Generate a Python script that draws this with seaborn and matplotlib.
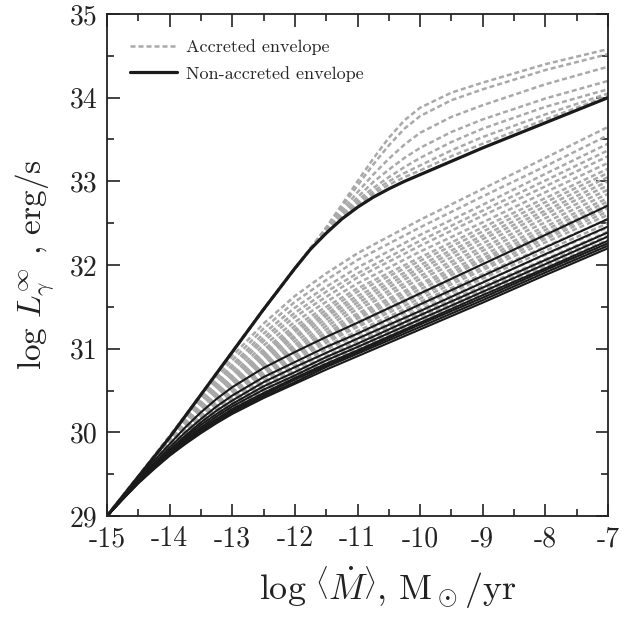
import matplotlib
matplotlib.use("Agg")
import matplotlib.pyplot as plt
from matplotlib.lines import Line2D
from matplotlib.ticker import MultipleLocator
import seaborn as sns

# ---------------- data ----------------
x_ticks = [-15, -14, -13, -12, -11, -10, -9, -8, -7]
x_tick_labels = ["-15", "-14", "-13", "-12", "-11", "-10", "-9", "-8", "-7"]
y_ticks = [29, 30, 31, 32, 33, 34, 35]
y_tick_labels = ["29", "30", "31", "32", "33", "34", "35"]

# Upper branch (non-accreted top curve and its accreted companions)
x_upper = [-15, -14.5, -14, -13.5, -13, -12.5, -12, -11.75, -11.5, -11.25, -11,
           -10.75, -10.5, -10.25, -10, -9.5, -9, -8, -7]
y_black_top = [29.0, 29.47, 29.94, 30.45, 30.96, 31.47, 31.96, 32.19, 32.38, 32.55, 32.69,
               32.81, 32.91, 33.00, 33.08, 33.24, 33.40, 33.70, 34.00]
y_gray_upper = [
    [29.0, 29.47, 29.94, 30.45, 30.96, 31.47, 31.96, 32.20, 32.45, 32.72, 33.00, 33.27, 33.52, 33.73, 33.88, 34.06, 34.18, 34.40, 34.58],
    [29.0, 29.47, 29.94, 30.45, 30.96, 31.47, 31.96, 32.20, 32.44, 32.69, 32.95, 33.20, 33.43, 33.63, 33.78, 33.97, 34.10, 34.33, 34.52],
    [29.0, 29.47, 29.94, 30.45, 30.96, 31.47, 31.96, 32.20, 32.43, 32.65, 32.87, 33.08, 33.27, 33.44, 33.58, 33.77, 33.91, 34.16, 34.37],
    [29.0, 29.47, 29.94, 30.45, 30.96, 31.47, 31.96, 32.19, 32.42, 32.62, 32.81, 32.99, 33.14, 33.28, 33.40, 33.59, 33.74, 33.99, 34.20],
    [29.0, 29.47, 29.94, 30.45, 30.96, 31.47, 31.96, 32.19, 32.41, 32.60, 32.77, 32.92, 33.05, 33.17, 33.28, 33.47, 33.63, 33.89, 34.10],
    [29.0, 29.47, 29.94, 30.45, 30.96, 31.47, 31.96, 32.19, 32.40, 32.58, 32.74, 32.88, 33.00, 33.10, 33.19, 33.37, 33.53, 33.80, 34.05],
    [29.0, 29.47, 29.94, 30.45, 30.96, 31.47, 31.96, 32.19, 32.39, 32.57, 32.72, 32.85, 32.96, 33.05, 33.13, 33.30, 33.45, 33.74, 34.02],
]

# Lower branch
x_lower = [-15, -14.75, -14.5, -14.25, -14, -13.75, -13.5, -13.25, -13, -12.5, -12,
           -11.5, -11, -10, -9, -8, -7]
y_black_lower = [
    [29.0, 29.23, 29.45, 29.66, 29.86, 30.06, 30.24, 30.40, 30.54, 30.77, 30.96, 31.14, 31.31, 31.66, 32.01, 32.36, 32.71],
    [29.0, 29.22, 29.43, 29.63, 29.82, 30.00, 30.16, 30.31, 30.44, 30.66, 30.84, 31.02, 31.18, 31.53, 31.87, 32.21, 32.55],
    [29.0, 29.22, 29.42, 29.61, 29.79, 29.96, 30.12, 30.26, 30.38, 30.60, 30.78, 30.95, 31.12, 31.45, 31.79, 32.13, 32.46],
    [29.0, 29.21, 29.41, 29.60, 29.77, 29.94, 30.09, 30.22, 30.34, 30.55, 30.72, 30.90, 31.06, 31.40, 31.73, 32.06, 32.39],
    [29.0, 29.21, 29.41, 29.59, 29.76, 29.92, 30.06, 30.19, 30.31, 30.51, 30.68, 30.86, 31.02, 31.35, 31.68, 32.01, 32.34],
    [29.0, 29.21, 29.40, 29.58, 29.74, 29.90, 30.04, 30.16, 30.28, 30.47, 30.65, 30.82, 30.98, 31.31, 31.64, 31.96, 32.29],
    [29.0, 29.20, 29.40, 29.58, 29.74, 29.89, 30.02, 30.14, 30.26, 30.45, 30.63, 30.80, 30.96, 31.29, 31.61, 31.94, 32.26],
    [29.0, 29.20, 29.40, 29.57, 29.73, 29.87, 30.01, 30.12, 30.24, 30.43, 30.60, 30.78, 30.94, 31.26, 31.58, 31.91, 32.23],
    [29.0, 29.20, 29.39, 29.56, 29.72, 29.86, 29.99, 30.11, 30.22, 30.41, 30.58, 30.75, 30.91, 31.23, 31.55, 31.88, 32.20],
]
y_gray_lower = [
    [29.0, 29.24, 29.48, 29.72, 29.96, 30.20, 30.45, 30.69, 30.91, 31.30, 31.63, 31.90, 32.14, 32.54, 32.91, 33.28, 33.65],
    [29.0, 29.24, 29.47, 29.71, 29.94, 30.18, 30.42, 30.65, 30.86, 31.24, 31.56, 31.82, 32.06, 32.45, 32.82, 33.18, 33.55],
    [29.0, 29.24, 29.47, 29.70, 29.93, 30.15, 30.39, 30.61, 30.81, 31.18, 31.49, 31.74, 31.97, 32.36, 32.72, 33.09, 33.45],
    [29.0, 29.23, 29.46, 29.69, 29.91, 30.14, 30.36, 30.58, 30.78, 31.13, 31.43, 31.68, 31.90, 32.29, 32.65, 33.01, 33.37],
    [29.0, 29.23, 29.46, 29.68, 29.90, 30.12, 30.34, 30.55, 30.74, 31.09, 31.38, 31.62, 31.85, 32.23, 32.59, 32.94, 33.30],
    [29.0, 29.23, 29.46, 29.67, 29.89, 30.10, 30.32, 30.52, 30.70, 31.04, 31.32, 31.56, 31.78, 32.16, 32.51, 32.87, 33.22],
    [29.0, 29.23, 29.45, 29.67, 29.88, 30.09, 30.29, 30.49, 30.67, 30.99, 31.27, 31.50, 31.72, 32.09, 32.45, 32.80, 33.15],
    [29.0, 29.23, 29.45, 29.66, 29.87, 30.07, 30.28, 30.47, 30.65, 30.96, 31.23, 31.46, 31.68, 32.05, 32.40, 32.75, 33.10],
    [29.0, 29.23, 29.45, 29.66, 29.86, 30.06, 30.26, 30.45, 30.62, 30.93, 31.20, 31.42, 31.63, 32.00, 32.35, 32.70, 33.05],
    [29.0, 29.23, 29.44, 29.65, 29.85, 30.05, 30.25, 30.43, 30.60, 30.90, 31.16, 31.39, 31.59, 31.96, 32.31, 32.65, 33.00],
    [29.0, 29.23, 29.44, 29.65, 29.85, 30.04, 30.23, 30.41, 30.58, 30.87, 31.13, 31.35, 31.55, 31.92, 32.26, 32.61, 32.95],
    [29.0, 29.22, 29.44, 29.64, 29.84, 30.03, 30.21, 30.39, 30.55, 30.84, 31.09, 31.31, 31.51, 31.87, 32.21, 32.56, 32.90],
    [29.0, 29.22, 29.43, 29.63, 29.83, 30.02, 30.20, 30.37, 30.53, 30.81, 31.05, 31.27, 31.47, 31.83, 32.17, 32.51, 32.85],
    [29.0, 29.22, 29.43, 29.63, 29.82, 30.01, 30.18, 30.35, 30.50, 30.78, 31.02, 31.23, 31.42, 31.78, 32.12, 32.46, 32.80],
    [29.0, 29.22, 29.43, 29.62, 29.81, 30.00, 30.17, 30.33, 30.48, 30.75, 30.99, 31.19, 31.39, 31.75, 32.08, 32.42, 32.76],
    [29.0, 29.22, 29.43, 29.62, 29.81, 29.99, 30.16, 30.32, 30.47, 30.73, 30.96, 31.16, 31.36, 31.71, 32.05, 32.38, 32.72],
    [29.0, 29.22, 29.42, 29.62, 29.80, 29.98, 30.15, 30.30, 30.45, 30.70, 30.93, 31.13, 31.32, 31.67, 32.01, 32.34, 32.68],
    [29.0, 29.22, 29.42, 29.61, 29.79, 29.97, 30.13, 30.29, 30.43, 30.68, 30.90, 31.10, 31.29, 31.64, 31.97, 32.31, 32.64],
    [29.0, 29.22, 29.42, 29.61, 29.79, 29.96, 30.12, 30.27, 30.41, 30.66, 30.87, 31.07, 31.26, 31.60, 31.94, 32.27, 32.60],
    [29.0, 29.22, 29.42, 29.60, 29.78, 29.95, 30.10, 30.25, 30.38, 30.62, 30.84, 31.03, 31.21, 31.56, 31.89, 32.22, 32.55],
    [29.0, 29.21, 29.41, 29.60, 29.77, 29.94, 30.09, 30.23, 30.36, 30.59, 30.80, 30.99, 31.17, 31.51, 31.84, 32.17, 32.50],
    [29.0, 29.21, 29.41, 29.59, 29.76, 29.93, 30.07, 30.21, 30.34, 30.56, 30.76, 30.95, 31.13, 31.47, 31.80, 32.12, 32.45],
    [29.0, 29.21, 29.41, 29.59, 29.76, 29.91, 30.06, 30.19, 30.31, 30.53, 30.73, 30.91, 31.09, 31.42, 31.75, 32.07, 32.40],
    [29.0, 29.21, 29.41, 29.58, 29.75, 29.90, 30.04, 30.17, 30.29, 30.50, 30.69, 30.87, 31.04, 31.38, 31.70, 32.03, 32.35],
    [29.0, 29.21, 29.40, 29.58, 29.74, 29.89, 30.03, 30.15, 30.26, 30.47, 30.66, 30.83, 31.00, 31.34, 31.66, 31.98, 32.30],
    [29.0, 29.21, 29.40, 29.57, 29.73, 29.88, 30.01, 30.13, 30.24, 30.44, 30.62, 30.79, 30.96, 31.29, 31.61, 31.93, 32.25],
]

legend_labels = ["Accreted envelope", "Non-accreted envelope"]

# ---------------- style ----------------
sns.set_style("ticks")
plt.rcParams.update({
    "font.family": ["cmr10", "DejaVu Serif"],
    "mathtext.fontset": "cm",
    "axes.unicode_minus": False,
    "axes.formatter.use_mathtext": True,
})

GRAY = "#a9a9a9"
BLACK = "#1a1a1a"
DASH = (0, (2.0, 1.2))

fig = plt.figure(figsize=(6.34, 6.27), dpi=100)
ax = fig.add_axes([0.1688, 0.177, 0.7902, 0.8007])

for ys in y_gray_lower:
    sns.lineplot(x=x_lower, y=ys, ax=ax, color=GRAY, linewidth=1.8, linestyle=DASH)
for ys in y_gray_upper:
    sns.lineplot(x=x_upper, y=ys, ax=ax, color=GRAY, linewidth=1.8, linestyle=DASH)
for ys in y_black_lower:
    sns.lineplot(x=x_lower, y=ys, ax=ax, color=BLACK, linewidth=1.5)
sns.lineplot(x=x_upper, y=y_black_top, ax=ax, color=BLACK, linewidth=2.3)

ax.set_xlim(-15, -7)
ax.set_ylim(29, 35)
ax.set_xticks(x_ticks)
ax.set_xticklabels(x_tick_labels)
ax.set_yticks(y_ticks)
ax.set_yticklabels(y_tick_labels)
ax.xaxis.set_minor_locator(MultipleLocator(0.5))
ax.yaxis.set_minor_locator(MultipleLocator(0.5))
ax.tick_params(which="both", direction="in", top=True, right=True,
               color="#222222", width=1.2, labelsize=20, labelcolor="#222222")
ax.tick_params(which="major", length=9, pad=7)
ax.tick_params(which="minor", length=5)
for sp in ax.spines.values():
    sp.set_linewidth(1.3)
    sp.set_color("#222222")

ax.set_xlabel(r"$\log\,\left\langle\dot{M}\right\rangle$, M$_\odot$/yr", fontsize=26, color="#222222")
ax.xaxis.set_label_coords(0.56, -0.097)
ax.set_ylabel(r"$\log\,L_\gamma^\infty$ , erg/s", fontsize=24, labelpad=10, color="#222222")

handles = [Line2D([], [], color=GRAY, linewidth=1.8, linestyle=DASH),
           Line2D([], [], color=BLACK, linewidth=2.3)]
ax.legend(handles, legend_labels, loc="upper left", frameon=False, fontsize=13,
          handlelength=2.6, handletextpad=0.5, borderaxespad=0.3,
          bbox_to_anchor=(0.02, 0.975), labelspacing=0.6)

fig.savefig("out.png", dpi=100)
